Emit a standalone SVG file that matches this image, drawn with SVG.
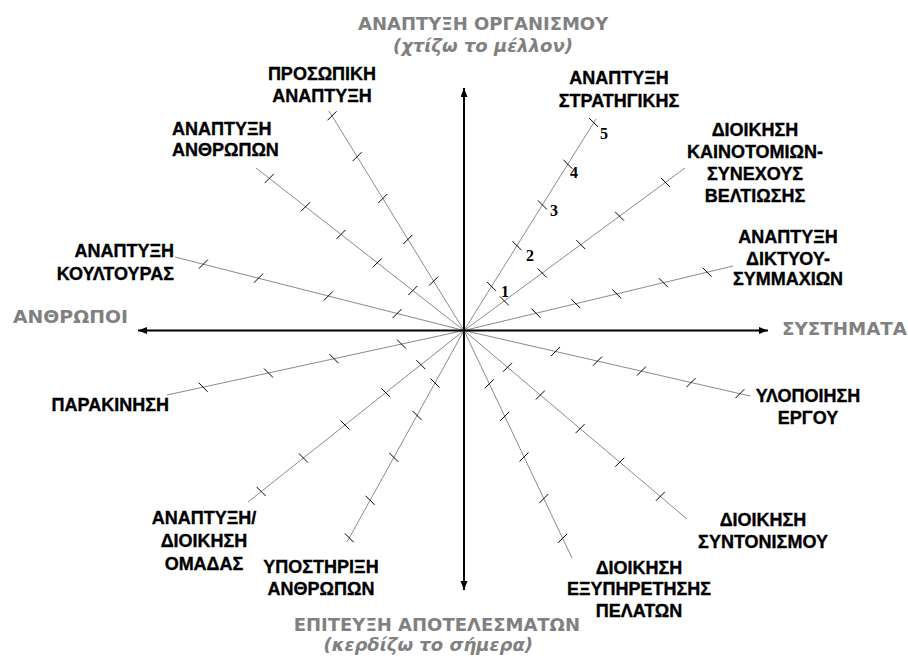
<svg xmlns="http://www.w3.org/2000/svg" xmlns:xlink="http://www.w3.org/1999/xlink" width="908" height="657" viewBox="0 0 908 657">
<style>
.lbl{font-family:"Liberation Sans",Arial,sans-serif;font-weight:bold;font-size:18px;fill:#000;stroke:#000;stroke-width:0.35;text-anchor:middle}
.st{text-anchor:start}
.en{text-anchor:end}
.ax{font-family:"DejaVu Sans",Verdana,sans-serif;font-weight:bold;font-size:18px;fill:#808080}
.axi{font-style:italic}
.num{font-family:"Liberation Serif","Times New Roman",serif;font-weight:bold;font-size:16px;fill:#000;text-anchor:middle}
.spoke{stroke:#8a8a8a;stroke-width:1;fill:none}
.axis{stroke:#000;stroke-width:2;fill:none;marker-end:url(#ah)}
.tk{stroke:#000;stroke-width:1}
</style>
<defs>
<marker id="ah" markerUnits="userSpaceOnUse" markerWidth="10" markerHeight="8" refX="9" refY="3.5" orient="auto">
<path d="M0,0 L9,3.5 L0,7 z" fill="#000"/>
</marker>
<path id="tf" class="tk" d="M-4.5,4.5 L4.5,-4.5"/>
<path id="tb" class="tk" d="M-4.5,-4.5 L4.5,4.5"/>
</defs>
<rect width="908" height="657" fill="#fff"/>

<g id="connectors">
<g id="spokes">
<line class="spoke" x1="464" y1="330.5" x2="596" y2="119"/>
<line class="spoke" x1="464" y1="330.5" x2="685" y2="168"/>
<line class="spoke" x1="464" y1="330.5" x2="733" y2="266"/>
<line class="spoke" x1="464" y1="330.5" x2="750" y2="396"/>
<line class="spoke" x1="464" y1="330.5" x2="687" y2="519"/>
<line class="spoke" x1="464" y1="330.5" x2="572" y2="558"/>
<line class="spoke" x1="464" y1="330.5" x2="347" y2="542"/>
<line class="spoke" x1="464" y1="330.5" x2="248" y2="502"/>
<line class="spoke" x1="464" y1="330.5" x2="167" y2="395"/>
<line class="spoke" x1="464" y1="330.5" x2="175" y2="257"/>
<line class="spoke" x1="464" y1="330.5" x2="256" y2="168"/>
<line class="spoke" x1="464" y1="330.5" x2="329" y2="111"/>
</g>
<g id="axes">
<line class="axis" x1="464" y1="330.5" x2="464" y2="88"/>
<line class="axis" x1="464" y1="330.5" x2="464" y2="590"/>
<line class="axis" x1="464" y1="330.5" x2="138" y2="330.5"/>
<line class="axis" x1="464" y1="330.5" x2="768" y2="330.5"/>
</g>
</g>

<g id="ticks">
<use href="#tb" x="491.5" y="286.4"/><use href="#tb" x="517" y="245.7"/><use href="#tb" x="542.4" y="204.9"/><use href="#tb" x="567.8" y="164.2"/><use href="#tb" x="593.7" y="122.6"/>
<use href="#tb" x="504.3" y="300.9"/><use href="#tb" x="542.2" y="273"/><use href="#tb" x="580.8" y="244.6"/><use href="#tb" x="619.5" y="216.2"/><use href="#tb" x="665.4" y="182.4"/>
<use href="#tb" x="536" y="313.2"/><use href="#tb" x="575.8" y="303.7"/><use href="#tb" x="616.7" y="293.9"/><use href="#tb" x="663.4" y="282.7"/><use href="#tb" x="707.1" y="272.2"/>
<use href="#tf" x="555.6" y="351.5"/><use href="#tf" x="597.5" y="361.1"/><use href="#tf" x="641.4" y="371.1"/><use href="#tf" x="691.1" y="382.5"/><use href="#tf" x="739.9" y="393.7"/>
<use href="#tf" x="507.5" y="367.3"/><use href="#tf" x="540.4" y="395"/><use href="#tf" x="580.1" y="428.6"/><use href="#tf" x="619.8" y="462.2"/><use href="#tf" x="660.3" y="496.4"/>
<use href="#tf" x="489.3" y="383.8"/><use href="#tf" x="504.7" y="416.3"/><use href="#tf" x="524" y="457"/><use href="#tf" x="543.8" y="498.6"/><use href="#tf" x="562.6" y="538.3"/>
<use href="#tb" x="435" y="383"/><use href="#tb" x="417" y="415.4"/><use href="#tb" x="393.8" y="457.4"/><use href="#tb" x="370.1" y="500.3"/><use href="#tb" x="349.3" y="537.9"/>
<use href="#tb" x="420.9" y="364.7"/><use href="#tb" x="385.7" y="392.7"/><use href="#tb" x="345" y="425"/><use href="#tb" x="303.4" y="458"/><use href="#tb" x="261.2" y="491.5"/>
<use href="#tb" x="401.5" y="344.1"/><use href="#tb" x="334" y="358.7"/><use href="#tb" x="268.5" y="373"/><use href="#tb" x="203.1" y="387.2"/>
<use href="#tf" x="397.1" y="313.5"/><use href="#tf" x="328.3" y="296"/><use href="#tf" x="258.5" y="278.2"/><use href="#tf" x="203.3" y="264.2"/>
<use href="#tf" x="412.8" y="290.5"/><use href="#tf" x="377.3" y="262.8"/><use href="#tf" x="341" y="234.4"/><use href="#tf" x="305.6" y="206.7"/><use href="#tf" x="269.3" y="178.4"/>
<use href="#tf" x="433.6" y="281.1"/><use href="#tf" x="407.9" y="239.4"/><use href="#tf" x="382.8" y="198.5"/><use href="#tf" x="357.1" y="156.7"/><use href="#tf" x="332" y="115.8"/>
</g>

<g id="scale">
<text class="num" x="505" y="297">1</text>
<text class="num" x="530" y="261">2</text>
<text class="num" x="554" y="216">3</text>
<text class="num" x="574" y="178">4</text>
<text class="num" x="604" y="139">5</text>
</g>

<g id="axis-labels">
<g id="top-label"><text class="ax" x="358" y="30">ΑΝΑΠΤΥΞΗ ΟΡΓΑΝΙΣΜΟΥ</text><text class="ax axi" x="393" y="52">(χτίζω το μέλλον)</text></g>
<g id="bottom-label"><text class="ax" x="580" y="631" text-anchor="end">ΕΠΙΤΕΥΞΗ ΑΠΟΤΕΛΕΣΜΑΤΩΝ</text><text class="ax axi" x="533" y="651" text-anchor="end">(κερδίζω το σήμερα)</text></g>
<g id="left-label"><text class="ax" x="13" y="323" textLength="115" lengthAdjust="spacingAndGlyphs">ΑΝΘΡΩΠΟΙ</text></g>
<g id="right-label"><text class="ax" x="782" y="335" textLength="125" lengthAdjust="spacingAndGlyphs">ΣΥΣΤΗΜΑΤΑ</text></g>
</g>

<g id="node-strategy"><text class="lbl" x="619" y="84">ΑΝΑΠΤΥΞΗ</text><text class="lbl" x="619" y="107">ΣΤΡΑΤΗΓΙΚΗΣ</text></g>
<g id="node-innovation"><text class="lbl" x="755" y="136">ΔΙΟΙΚΗΣΗ</text><text class="lbl" x="755" y="158">ΚΑΙΝΟΤΟΜΙΩΝ-</text><text class="lbl" x="755" y="180">ΣΥΝΕΧΟΥΣ</text><text class="lbl" x="755" y="202">ΒΕΛΤΙΩΣΗΣ</text></g>
<g id="node-network"><text class="lbl" x="788" y="243">ΑΝΑΠΤΥΞΗ</text><text class="lbl" x="788" y="265">ΔΙΚΤΥΟΥ-</text><text class="lbl" x="788" y="285">ΣΥΜΜΑΧΙΩΝ</text></g>
<g id="node-project"><text class="lbl" x="808" y="402">ΥΛΟΠΟΙΗΣΗ</text><text class="lbl" x="808" y="424">ΕΡΓΟΥ</text></g>
<g id="node-coordination"><text class="lbl" x="763" y="526">ΔΙΟΙΚΗΣΗ</text><text class="lbl" x="763" y="548">ΣΥΝΤΟΝΙΣΜΟΥ</text></g>
<g id="node-service"><text class="lbl" x="639" y="574">ΔΙΟΙΚΗΣΗ</text><text class="lbl" x="639" y="595">ΕΞΥΠΗΡΕΤΗΣΗΣ</text><text class="lbl" x="639" y="617">ΠΕΛΑΤΩΝ</text></g>
<g id="node-support"><text class="lbl" x="321" y="573">ΥΠΟΣΤΗΡΙΞΗ</text><text class="lbl" x="321" y="595">ΑΝΘΡΩΠΩΝ</text></g>
<g id="node-team"><text class="lbl" x="204" y="524">ΑΝΑΠΤΥΞΗ/</text><text class="lbl" x="204" y="547">ΔΙΟΙΚΗΣΗ</text><text class="lbl" x="204" y="570">ΟΜΑΔΑΣ</text></g>
<g id="node-motivation"><text class="lbl en" x="169" y="411">ΠΑΡΑΚΙΝΗΣΗ</text></g>
<g id="node-culture"><text class="lbl en" x="174" y="257">ΑΝΑΠΤΥΞΗ</text><text class="lbl en" x="174" y="280">ΚΟΥΛΤΟΥΡΑΣ</text></g>
<g id="node-people"><text class="lbl st" x="172" y="135">ΑΝΑΠΤΥΞΗ</text><text class="lbl st" x="172" y="156">ΑΝΘΡΩΠΩΝ</text></g>
<g id="node-personal"><text class="lbl" x="322" y="80">ΠΡΟΣΩΠΙΚΗ</text><text class="lbl" x="322" y="102">ΑΝΑΠΤΥΞΗ</text></g>
</svg>
